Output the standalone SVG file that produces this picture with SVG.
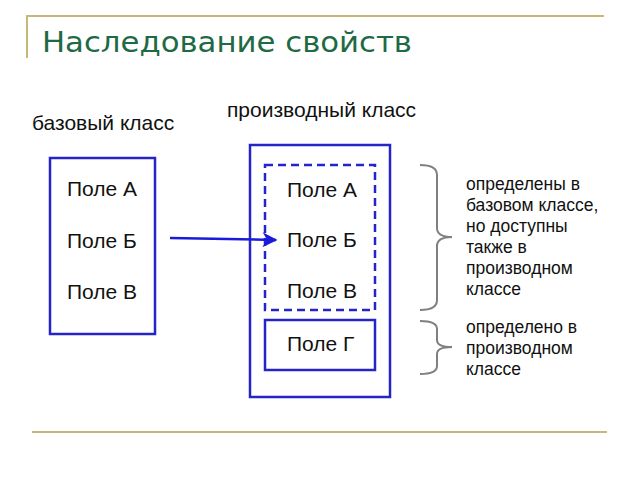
<svg xmlns="http://www.w3.org/2000/svg" width="640" height="480" viewBox="0 0 640 480">
<defs>
<style>
.t{font-family:"Liberation Sans",Arial,sans-serif;fill:#111;}
.f{font-size:21px;}
.n{font-size:17.5px;}
.box{fill:none;stroke:#2424c8;stroke-width:2.5;}
.br{fill:none;stroke:#808080;stroke-width:2;}
.deco{stroke:#c8b878;stroke-width:2;fill:none;}
</style>
<marker id="ah" viewBox="0 0 10 10" refX="9" refY="5" markerWidth="7" markerHeight="6" orient="auto" markerUnits="strokeWidth">
<path d="M0,0 L10,5 L0,10 L3,5 Z" fill="#1a1ad8"/>
</marker>
</defs>
<rect width="640" height="480" fill="#fff"/>
<g id="decor">
<line class="deco" x1="26" y1="16" x2="604" y2="16"/>
<line class="deco" x1="27" y1="16" x2="27" y2="58"/>
<line class="deco" x1="32" y1="432" x2="607" y2="432" stroke="#c0b880"/>
</g>
<text id="title" x="42" y="52" textLength="370" lengthAdjust="spacingAndGlyphs" style="font-family:'DejaVu Sans','Liberation Sans',sans-serif;font-size:29px;fill:#1e6a44;">Наследование свойств</text>
<text class="t f" x="32" y="130">базовый класс</text>
<text class="t f" x="227" y="117">производный класс</text>
<g id="base">
<rect class="box" x="50" y="158" width="105" height="176"/>
<text class="t f" x="67" y="196">Поле А</text>
<text class="t f" x="67" y="248">Поле Б</text>
<text class="t f" x="67" y="299">Поле В</text>
</g>
<g id="derived">
<rect class="box" x="250" y="145" width="140" height="252"/>
<rect class="box" x="265" y="165" width="110" height="145" stroke-dasharray="8,5" stroke-width="3"/>
<text class="t f" x="287" y="197">Поле А</text>
<text class="t f" x="287" y="247">Поле Б</text>
<text class="t f" x="287" y="298">Поле В</text>
</g>
<g id="fieldG">
<rect class="box" x="265" y="320" width="110" height="50"/>
<text class="t f" x="287" y="351">Поле Г</text>
</g>
<g id="connectors">
<path d="M170,238 L276,240" stroke="#1a1ad8" stroke-width="2.5" fill="none" marker-end="url(#ah)"/>
</g>
<g id="brace1">
<path class="br" d="M420,165 Q437,165 437,175 L437,228 Q437,237 452,237 Q437,237 437,246 L437,300 Q437,310 420,310"/>
<text class="t n" x="466" y="190">определены в</text>
<text class="t n" x="466" y="211">базовом классе,</text>
<text class="t n" x="466" y="232">но доступны</text>
<text class="t n" x="466" y="253">также в</text>
<text class="t n" x="466" y="274">производном</text>
<text class="t n" x="466" y="295">классе</text>
</g>
<g id="brace2">
<path class="br" d="M420,321 Q437,321 437,329 L437,340 Q437,347 452,347 Q437,347 437,354 L437,366 Q437,374 420,374"/>
<text class="t n" x="466" y="333">определено в</text>
<text class="t n" x="466" y="354">производном</text>
<text class="t n" x="466" y="375">классе</text>
</g>
</svg>
